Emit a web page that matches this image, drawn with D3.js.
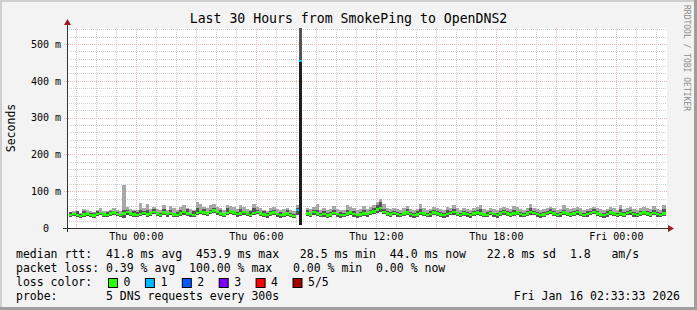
<!DOCTYPE html>
<html>
<head>
<meta charset="utf-8">
<script src="https://cdn.jsdelivr.net/npm/d3@7"></script>
<style>
body { margin: 0; background: #f3f3f3; }
svg { display: block; font-family: 'DejaVu Sans Mono', monospace; }
text { white-space: pre; }
</style>
</head>
<body>
<svg></svg>
<script>
// 10 minute steps, first step starts Wed Jan 14 20:40
let stepMinutes = 10
let firstStep = new Date(2026, 0, 14, 20, 40)
let endTime = new Date(2026, 0, 16, 2, 33, 33)

// median rtt in ms (null = 100% loss)
let median = [
  36,38,35,33,37,40,36,34,38,41,
  37,35,39,42,38,36,40,43,39,37,
  35,38,41,37,40,44,39,36,42,38,
  41,37,35,39,43,40,38,36,41,45,
  42,39,44,47,43,40,37,41,45,42,
  38,40,43,39,36,41,44,40,37,35,
  39,42,38,35,37,40,36,33,49,453.9,
  null,40,37,43,39,36,38,34,37,41,
  38,35,36,39,42,38,35,37,40,38,
  42,45,50,55,44,40,37,41,38,36,
  39,42,38,35,37,41,39,36,38,42,
  40,37,35,38,41,43,39,36,40,38,
  35,39,42,40,37,36,41,38,35,39,
  43,40,37,39,42,38,36,40,43,41,
  38,35,37,41,44,40,36,38,42,39,
  37,40,43,39,36,38,41,44,40,37,
  35,38,42,39,36,40,37,41,43,38,
  36,39,42,40,37,41,38,36,40
]
// smoke: fastest ping
let smokeLo = [
  30,32,29,28,31,33,30,28,32,34,
  31,29,33,35,32,30,28,36,33,31,
  29,32,34,31,33,37,32,30,35,31,
  34,30,29,32,36,33,31,30,34,38,
  35,32,37,40,36,33,30,34,38,35,
  31,33,36,32,29,34,37,33,30,28,
  32,35,31,28,30,33,29,27,36,8,
  null,33,30,36,32,29,31,27,30,34,
  31,28,29,32,35,31,28,30,33,31,
  35,38,40,44,37,33,30,34,31,29,
  32,35,31,28,30,34,32,29,31,35,
  33,30,28,31,34,36,32,29,33,31,
  28,32,35,33,30,29,34,31,28,32,
  36,33,30,32,35,31,29,33,36,34,
  31,28,30,34,37,33,29,31,35,32,
  30,33,36,32,29,31,34,37,33,30,
  28,31,35,32,29,33,30,34,36,31,
  29,32,35,33,30,34,31,29,33
]
// smoke: 4th ping
let smokeP4 = [
  44,41,45,38,47,43,40,42,46,44,
  41,43,47,46,44,39,48,50,43,45,
  43,50,45,48,44,52,43,41,51,42,
  50,41,44,49,47,51,42,45,55,49,
  52,44,50,54,47,49,42,53,50,46,
  44,51,47,43,45,53,48,44,46,40,
  47,50,42,43,41,48,40,38,55,454,
  null,48,42,49,50,41,46,40,44,50,
  42,44,40,50,46,45,39,43,49,42,
  49,53,62,70,52,45,44,46,43,41,
  44,51,43,41,45,52,44,40,46,48,
  45,43,40,48,46,52,44,42,47,43,
  40,46,48,52,42,43,47,42,41,45,
  49,45,43,50,47,44,41,46,54,46,
  43,41,44,46,51,45,42,43,50,44,
  43,46,49,44,41,45,47,51,45,42,
  40,45,48,44,42,51,43,46,50,44,
  41,46,47,45,43,50,44,41,52
]
// smoke: slowest ping
let smokeHi = [
  44,47,43,41,52,49,45,43,48,55,
  47,46,50,55,49,47,117,56,51,48,
  48,68,53,66,52,58,51,49,62,50,
  60,55,49,58,62,53,51,48,70,64,
  58,54,62,65,57,55,50,63,60,56,
  52,62,56,51,48,66,58,54,50,47,
  54,58,52,49,51,55,50,46,62,700,
  null,55,51,58,64,50,53,48,52,60,
  52,49,50,62,57,53,49,51,60,52,
  56,62,72,80,64,54,51,55,52,50,
  53,60,52,49,51,64,54,50,52,57,
  54,51,49,58,55,62,53,50,54,52,
  49,53,56,63,51,50,55,52,49,53,
  57,54,51,60,56,52,50,54,65,55,
  52,49,51,55,58,54,50,52,62,53,
  51,54,57,53,50,52,55,58,54,51,
  49,52,56,53,50,62,51,55,57,52,
  50,53,56,54,51,60,52,50,62
]
// [step index, lost pings]
let lossEvents = [[68, 1], [69, 1], [70, 5]]

let lossColors = ['#26ff00', '#00b8ff', '#0059ff', '#7e00ff', '#ff0000', '#a10000']
let lossLabels = ['0', '1', '2', '3', '4', '5/5']

let yTicks = [0, 100, 200, 300, 400, 500]
let yTickLabels = ['0  ', '100 m', '200 m', '300 m', '400 m', '500 m']
let xTickTimes = [
  new Date(2026, 0, 15, 0), new Date(2026, 0, 15, 6), new Date(2026, 0, 15, 12),
  new Date(2026, 0, 15, 18), new Date(2026, 0, 16, 0)
]
let xTickLabels = ['Thu 00:00', 'Thu 06:00', 'Thu 12:00', 'Thu 18:00', 'Fri 00:00']

let legendLines = [
  'median rtt:  41.8 ms avg  453.9 ms max   28.5 ms min  44.0 ms now   22.8 ms sd  1.8   am/s',
  'packet loss: 0.39 % avg  100.00 % max   0.00 % min  0.00 % now',
  'loss color:',
  'probe:       5 DNS requests every 300s'
]

let width = 697
let height = 310
let plotLeft = 67
let plotTop = 28
let plotW = 600
let plotH = 200

let svg = d3.select('svg')
            .attr('width', width)
            .attr('height', height)

let xScale = d3.scaleTime()
               .domain([d3.timeHour.offset(endTime, -30), endTime])
               .range([plotLeft, plotLeft + plotW])
let yScale = d3.scaleLinear()
               .domain([0, 543.5])
               .range([plotTop + plotH, plotTop])

let stepTime = (i) => d3.timeMinute.offset(firstStep, i * stepMinutes)
let lossOf = (i) => {
  let e = lossEvents.find(d => d[0] === i)
  return e ? e[1] : 0
}

let drawFrame = () => {
  svg.append('rect').attr('width', width).attr('height', height).attr('fill', '#f3f3f3')
  svg.append('path').attr('d', `M1,${height} V1 H${width}`).attr('fill', 'none')
     .attr('stroke', '#cfcfcf').attr('stroke-width', 2)
  svg.append('path').attr('d', `M0,${height - 1.5} H${width - 1.5} V0`).attr('fill', 'none')
     .attr('stroke', '#9e9e9e').attr('stroke-width', 3)
  svg.append('rect')
     .attr('x', plotLeft).attr('y', plotTop)
     .attr('width', plotW).attr('height', plotH)
     .attr('fill', '#ffffff')
}

let drawGrid = () => {
  let g = svg.append('g').attr('shape-rendering', 'crispEdges')
  let [t0, t1] = xScale.domain()
  let minorX = d3.timeHour.range(t0, t1).filter(d => d.getHours() % 3 !== 0)
  let majorX = d3.timeHour.range(t0, t1).filter(d => d.getHours() % 3 === 0)
  let minorY = d3.range(20, 543.5, 20).filter(d => d % 100 !== 0)
  let majorY = d3.range(100, 543.5, 100)
  let minorColor = '#d0d0d0'
  let majorColor = '#f4b4b4'

  g.selectAll('.minor-x').data(minorX).enter().append('line')
   .attr('x1', d => Math.round(xScale(d)) + 0.5).attr('x2', d => Math.round(xScale(d)) + 0.5)
   .attr('y1', plotTop).attr('y2', plotTop + plotH)
   .attr('stroke', minorColor).attr('stroke-dasharray', '1,1')
  g.selectAll('.minor-y').data(minorY).enter().append('line')
   .attr('y1', d => Math.round(yScale(d)) + 0.5).attr('y2', d => Math.round(yScale(d)) + 0.5)
   .attr('x1', plotLeft).attr('x2', plotLeft + plotW)
   .attr('stroke', minorColor).attr('stroke-dasharray', '1,1')
  g.selectAll('.major-x').data(majorX).enter().append('line')
   .attr('x1', d => Math.round(xScale(d)) + 0.5).attr('x2', d => Math.round(xScale(d)) + 0.5)
   .attr('y1', plotTop).attr('y2', plotTop + plotH)
   .attr('stroke', majorColor).attr('stroke-dasharray', '1,1')
  g.selectAll('.major-y').data(majorY).enter().append('line')
   .attr('y1', d => Math.round(yScale(d)) + 0.5).attr('y2', d => Math.round(yScale(d)) + 0.5)
   .attr('x1', plotLeft - 3).attr('x2', plotLeft + plotW)
   .attr('stroke', majorColor).attr('stroke-dasharray', '1,1')
}

let drawData = () => {
  svg.append('clipPath').attr('id', 'plotclip')
     .append('rect').attr('x', plotLeft).attr('y', plotTop).attr('width', plotW).attr('height', plotH)
  let g = svg.append('g').attr('clip-path', 'url(#plotclip)').attr('shape-rendering', 'crispEdges')
  let idx = d3.range(median.length)
  let stepX = (i) => xScale(stepTime(i))
  let stepW = (i) => xScale(stepTime(i + 1)) - xScale(stepTime(i))

  // light smoke: 4th ping up to slowest ping
  g.selectAll('.smoke-out').data(idx.filter(i => smokeHi[i] != null)).enter().append('rect')
   .attr('x', stepX).attr('width', stepW)
   .attr('y', i => yScale(smokeHi[i]))
   .attr('height', i => yScale(smokeP4[i]) - yScale(smokeHi[i]))
   .attr('fill', i => smokeHi[i] - smokeP4[i] > 100 ? '#555555' : '#a8a8a8')
  // dark smoke: fastest ping up to 4th ping
  g.selectAll('.smoke-in').data(idx.filter(i => smokeP4[i] != null)).enter().append('rect')
   .attr('x', stepX).attr('width', stepW)
   .attr('y', i => yScale(smokeP4[i]))
   .attr('height', i => yScale(smokeLo[i]) - yScale(smokeP4[i]))
   .attr('fill', i => smokeP4[i] - smokeLo[i] > 100 ? '#1e1e1e' : '#555555')
  g.selectAll('.median').data(idx.filter(i => median[i] != null)).enter().append('rect')
   .attr('x', stepX).attr('width', stepW)
   .attr('y', i => yScale(median[i]) - 1.25)
   .attr('height', 2.5)
   .attr('fill', i => lossColors[lossOf(i)])
}

let drawAxes = () => {
  let yAxis = d3.axisLeft(yScale)
                .tickValues(yTicks)
                .tickFormat((d, i) => yTickLabels[i])
                .tickSize(0)
                .tickPadding(6)
  let ya = svg.append('g')
              .attr('transform', 'translate(' + plotLeft + ',0)')
              .call(yAxis)
  ya.select('.domain').remove()
  ya.selectAll('text').attr('font-family', "'DejaVu Sans Mono', monospace")
    .attr('font-size', '10px').attr('fill', '#000')

  let xAxis = d3.axisBottom(xScale)
                .tickValues(xTickTimes)
                .tickFormat((d, i) => xTickLabels[i])
                .tickSize(0)
                .tickPadding(5)
  let xa = svg.append('g')
              .attr('transform', 'translate(0,' + (plotTop + plotH) + ')')
              .call(xAxis)
  xa.select('.domain').remove()
  xa.selectAll('text').attr('font-family', "'DejaVu Sans Mono', monospace")
    .attr('font-size', '10px').attr('fill', '#000')

  // axis lines with arrows
  svg.append('line')
     .attr('x1', plotLeft - 4).attr('x2', plotLeft + plotW + 1)
     .attr('y1', plotTop + plotH + 0.5).attr('y2', plotTop + plotH + 0.5)
     .attr('stroke', '#333')
  svg.append('line')
     .attr('x1', plotLeft + 0.5).attr('x2', plotLeft + 0.5)
     .attr('y1', plotTop + plotH + 4).attr('y2', plotTop - 3)
     .attr('stroke', '#333')
  svg.append('path')
     .attr('d', `M${plotLeft + plotW + 1},${plotTop + plotH - 3} L${plotLeft + plotW + 7},${plotTop + plotH + 0.5} L${plotLeft + plotW + 1},${plotTop + plotH + 4} Z`)
     .attr('fill', '#9b1c1c')
  svg.append('path')
     .attr('d', `M${plotLeft - 3},${plotTop - 3} L${plotLeft + 0.5},${plotTop - 9} L${plotLeft + 4},${plotTop - 3} Z`)
     .attr('fill', '#9b1c1c')
}

let drawText = () => {
  svg.append('text')
     .attr('x', width / 2).attr('y', 23)
     .attr('text-anchor', 'middle')
     .attr('font-size', '13.2px')
     .text('Last 30 Hours from SmokePing to OpenDNS2')

  svg.append('text')
     .attr('transform', 'translate(15,' + (plotTop + plotH / 2) + ') rotate(-90)')
     .attr('text-anchor', 'middle')
     .attr('font-size', '11.5px')
     .text('Seconds')

  svg.append('text')
     .attr('transform', 'translate(684,5) rotate(90)')
     .attr('font-size', '8px')
     .attr('fill', '#8c8c8c')
     .text('RRDTOOL / TOBI OETIKER')

  svg.selectAll('.legend').data(legendLines).enter().append('text')
     .attr('x', 16)
     .attr('y', (d, i) => 258 + i * 14)
     .attr('font-size', '11.5px')
     .text(d => d)

  let sw = svg.selectAll('.swatch').data(lossLabels).enter().append('g')
              .attr('transform', (d, i) => 'translate(' + (108.5 + i * 36.9) + ',278.5)')
  sw.append('rect')
    .attr('width', 9).attr('height', 9)
    .attr('fill', (d, i) => lossColors[i])
    .attr('stroke', '#000')
  sw.append('text')
    .attr('x', 15).attr('y', 7.5)
    .attr('font-size', '11.5px')
    .text(d => d)

  svg.append('text')
     .attr('x', 680).attr('y', 300)
     .attr('text-anchor', 'end')
     .attr('font-size', '11.5px')
     .text('Fri Jan 16 02:33:33 2026')
}

drawFrame()
drawGrid()
drawData()
drawAxes()
drawText()
</script>
</body>
</html>
